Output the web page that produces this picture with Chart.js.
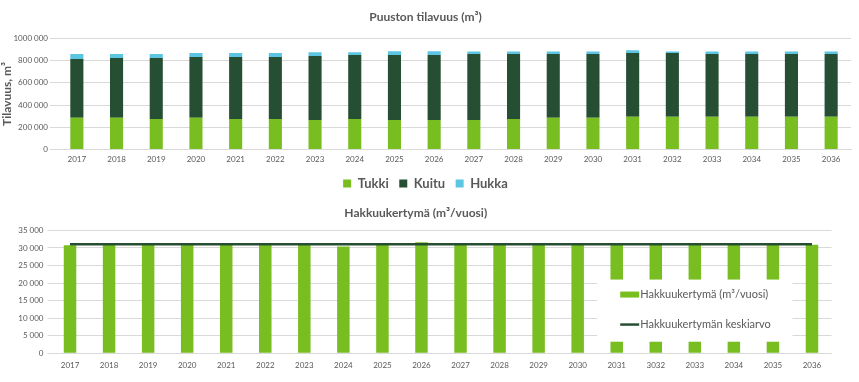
<!DOCTYPE html>
<html><head><meta charset="utf-8">
<script src="https://cdn.jsdelivr.net/npm/chart.js@4/dist/chart.umd.min.js"></script>
<style>
html,body{margin:0;padding:0;background:#fff;overflow:hidden;}
#w1{position:absolute;left:0;top:0;width:859px;height:200px;}
#w2{position:absolute;left:0;top:195px;width:859px;height:187px;}
</style></head><body>
<div id="w1"><canvas id="c1"></canvas></div>
<div id="w2"><canvas id="c2"></canvas></div>
<script>
// ---- data ----
const years = ['2017','2018','2019','2020','2021','2022','2023','2024','2025','2026','2027','2028','2029','2030','2031','2032','2033','2034','2035','2036'];
const yearsBottom = ['2017','2018','2019','2020','2021','2022','2023','2024','2025','2026','2027','2028','2029','2030','2031','3032','2033','2034','2035','2036'];
const tukki = [285000,285000,274000,285000,274000,274000,265000,274000,265000,265000,265000,274000,285000,285000,294000,294000,294000,294000,294000,294000];
const kuitu = [530000,539000,550000,547000,558000,558000,576000,576000,585000,585000,594000,585000,574000,574000,574000,574000,565000,565000,565000,565000];
const hukka = [44000,35000,35000,36000,36000,36000,35000,26000,35000,35000,23000,23000,23000,23000,26000,14000,23000,23000,23000,23000];
const topTickLabels = ['0','200 000','400 000','600 000','800 000','1000 000'];
const hakkuu = [30800,31100,31100,31100,31100,31100,31100,30400,31100,31600,31100,31100,31100,31100,31100,31100,31100,31100,31100,30900];
const keskiarvo = [31050,31050,31050,31050,31050,31050,31050,31050,31050,31050,31050,31050,31050,31050,31050,31050,31050,31050,31050,31050];
const bottomTickLabels = ['0','5 000','10 000','15 000','20 000','25 000','30 000','35 000'];

const F = 'Lato, "Open Sans", sans-serif';
const GRAY = '#595959';
const GRID = '#D9D9D9';
const C_TUKKI = '#78BE21';
const C_KUITU = '#264E33';
const C_HUKKA = '#5BC5E2';

new Chart(document.getElementById('c1'), {
  type: 'bar',
  data: { labels: years, datasets: [
    { label: 'Tukki', data: tukki, backgroundColor: C_TUKKI },
    { label: 'Kuitu', data: kuitu, backgroundColor: C_KUITU },
    { label: 'Hukka', data: hukka, backgroundColor: C_HUKKA }
  ]},
  options: {
    responsive: true, maintainAspectRatio: false, animation: false,
    layout: { padding: { left: 0, right: 8, top: 0, bottom: 0 } },
    datasets: { bar: { categoryPercentage: 1, barPercentage: 0.33 } },
    plugins: {
      title: { display: true, text: 'Puuston tilavuus (m³)', color: GRAY,
        font: { family: F, size: 12, weight: 'bold' }, padding: { top: 10, bottom: 14 } },
      legend: { position: 'bottom', labels: { boxWidth: 8, boxHeight: 8, color: GRAY,
        font: { family: F, size: 13, weight: 'bold' }, padding: 10.5 } },
      tooltip: { enabled: false }
    },
    scales: {
      x: { stacked: true, grid: { display: false, drawTicks: false }, border: { color: GRID },
        ticks: { color: GRAY, font: { family: F, size: 8 }, maxRotation: 0, autoSkip: false, padding: 5 },
        afterFit(s) { s.height = 17; } },
      y: { stacked: true, min: 0, max: 1000000,
        ticks: { stepSize: 200000, color: GRAY, font: { family: F, size: 8 }, padding: 2,
          callback: (v, i) => topTickLabels[i] },
        grid: { color: GRID, tickLength: 7 }, border: { display: false },
        title: { display: true, text: 'Tilavuus, m³', color: GRAY, font: { family: F, size: 12, weight: 'bold' }, padding: 0 },
        afterFit(s) { s.width = 57; } }
    }
  }
});

const boxLegend = {
  id: 'boxLegend',
  afterDatasetsDraw(chart) {
    const ctx = chart.ctx, xs = chart.scales.x, ys = chart.scales.y;
    const l = xs.getPixelForValue(13.5), r = xs.getPixelForValue(18.5);
    const t = ys.getPixelForValue(21000), b = ys.getPixelForValue(3300);
    ctx.save();
    ctx.fillStyle = '#ffffff';
    ctx.fillRect(l, t, r - l, b - t);
    const ds = chart.data.datasets;
    const sx = l + 23, sw = 19;
    ctx.font = '11px ' + F;
    ctx.textBaseline = 'middle';
    const y1 = t + 15, y2 = t + 45;
    ctx.fillStyle = ds[0].backgroundColor;
    ctx.fillRect(sx, y1 - 3, sw, 6);
    ctx.fillStyle = GRAY;
    ctx.fillText(ds[0].label, sx + sw + 1, y1);
    ctx.strokeStyle = ds[1].borderColor;
    ctx.lineWidth = 2.5;
    ctx.beginPath(); ctx.moveTo(sx, y2); ctx.lineTo(sx + sw, y2); ctx.stroke();
    ctx.fillText(ds[1].label, sx + sw + 1, y2);
    ctx.restore();
  }
};

new Chart(document.getElementById('c2'), {
  type: 'bar',
  data: { labels: yearsBottom, datasets: [
    { type: 'bar', label: 'Hakkuukertymä (m³/vuosi)', data: hakkuu, backgroundColor: C_TUKKI, order: 2,
      categoryPercentage: 1, barPercentage: 0.32 },
    { type: 'line', label: 'Hakkuukertymän keskiarvo', data: keskiarvo, borderColor: C_KUITU,
      borderWidth: 2.5, pointRadius: 0, fill: false, order: 1 }
  ]},
  options: {
    responsive: true, maintainAspectRatio: false, animation: false,
    layout: { padding: { left: 0, right: 27.5, top: 0, bottom: 0 } },
    plugins: {
      title: { display: true, text: 'Hakkuukertymä (m³/vuosi)', color: GRAY,
        font: { family: F, size: 12, weight: 'bold' }, padding: { top: 11, bottom: 10 } },
      legend: { display: false },
      tooltip: { enabled: false }
    },
    scales: {
      x: { grid: { display: false, drawTicks: false }, border: { color: GRID },
        ticks: { color: GRAY, font: { family: F, size: 8 }, maxRotation: 0, autoSkip: false, padding: 7 },
        afterFit(s) { s.height = 28.7; } },
      y: { min: 0, max: 35000,
        ticks: { stepSize: 5000, color: GRAY, font: { family: F, size: 8 }, padding: 4,
          callback: (v, i) => bottomTickLabels[i] },
        grid: { color: GRID, tickLength: 3 }, border: { display: false },
        afterFit(s) { s.width = 50.5; } }
    }
  },
  plugins: [boxLegend]
});
</script>
</body></html>
